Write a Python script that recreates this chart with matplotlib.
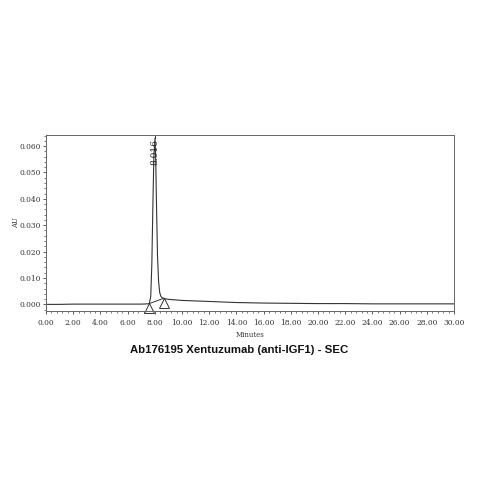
import matplotlib
matplotlib.use("Agg")
import matplotlib.pyplot as plt
import matplotlib.transforms as mtransforms
from matplotlib.ticker import FuncFormatter, AutoMinorLocator

# ---- data ----
time_min = [0.0, 1.0, 2.0, 3.0, 4.0, 5.0, 6.0, 7.0, 7.5, 7.6, 7.7, 7.78, 7.86, 7.93,
            8.016, 8.07, 8.13, 8.2, 8.28, 8.36, 8.45, 8.55, 8.65, 8.8, 9.0, 9.5,
            10.0, 11.0, 12.0, 13.0, 14.0, 16.0, 18.0, 20.0, 22.0, 24.0, 26.0, 28.0, 30.0]
absorbance = [0.0000, 0.0000, 0.0001, 0.0001, 0.0001, 0.0001, 0.0001, 0.0001, 0.0002,
              0.0004, 0.0030, 0.0150, 0.0380, 0.0560,
              0.0630, 0.0540, 0.0360, 0.0180, 0.0085, 0.0045, 0.0030, 0.0025, 0.0023,
              0.0021, 0.0019, 0.0017,
              0.0015, 0.0013, 0.0011, 0.0009, 0.0007, 0.0005, 0.0004, 0.0003, 0.0003,
              0.0002, 0.0002, 0.0002, 0.0002]

peak_rt = 8.016
peak_label = "8.016"
peak_apex = 0.0630
baseline_start = (7.60, 0.0003)
baseline_end = (8.65, 0.0023)

x_ticks = [0, 2, 4, 6, 8, 10, 12, 14, 16, 18, 20, 22, 24, 26, 28, 30]
y_ticks = [0.000, 0.010, 0.020, 0.030, 0.040, 0.050, 0.060]

title = "Ab176195 Xentuzumab (anti-IGF1) - SEC"
x_label = "Minutes"
y_label = "AU"

# ---- figure ----
fig = plt.figure(figsize=(4.79, 4.79), dpi=100)
ax = fig.add_axes([0.096, 0.351, 0.852, 0.367])

line_col = "#333333"
ax.plot(time_min, absorbance, color=line_col, lw=0.8)

# integration baseline
ax.plot([baseline_start[0], baseline_end[0]], [baseline_start[1], baseline_end[1]],
        color=line_col, lw=0.7)

# leader line above apex
ax.plot([peak_rt, peak_rt], [peak_apex, 0.0637], color=line_col, lw=0.7)

# open triangle markers (peak start / end), drawn just below the points
off = mtransforms.offset_copy(ax.transData, fig=fig, x=0, y=-3.2, units="points")
for (px, py) in (baseline_start, baseline_end):
    ax.plot([px], [py], marker="^", ms=6.5, mfc="white", mec=line_col, mew=0.7,
            transform=off, clip_on=False)

# peak label
ax.text(peak_rt, 0.0528, peak_label, rotation=90, ha="center", va="bottom",
        family="DejaVu Serif", fontsize=6.5, color="#222222")

ax.set_xlim(0, 30)
ax.set_ylim(-0.00246, 0.06416)
ax.set_xticks(x_ticks)
ax.set_yticks(y_ticks)
ax.xaxis.set_minor_locator(AutoMinorLocator(5))
ax.yaxis.set_minor_locator(AutoMinorLocator(5))
ax.xaxis.set_major_formatter(FuncFormatter(lambda v, p: f"{v:.2f}"))
ax.yaxis.set_major_formatter(FuncFormatter(lambda v, p: f"{v:.3f}"))

ax.tick_params(which="major", direction="out", length=2.5, width=0.6, color="#444444",
               labelsize=5.4)
ax.tick_params(axis="y", which="major", pad=1.2)
ax.tick_params(axis="x", which="major", pad=3.5)
ax.tick_params(which="minor", direction="out", length=1.5, width=0.5, color="#444444")
for lab in ax.get_xticklabels() + ax.get_yticklabels():
    lab.set_family("DejaVu Serif")
    lab.set_color("#333333")

for s in ax.spines.values():
    s.set_color("#666666")
    s.set_linewidth(0.7)

ax.set_xlabel(x_label, family="DejaVu Serif", fontsize=5, color="#333333")
ax.set_ylabel(y_label, family="DejaVu Serif", fontsize=5, color="#333333")
ax.xaxis.set_label_coords(0.5, -0.115)
ax.yaxis.set_label_coords(-0.064, 0.5)

fig.text(0.5, 0.269, title, ha="center", va="center", family="Liberation Sans",
         fontweight="bold", fontsize=8.2, color="#111111")

fig.savefig("out.png", dpi=100, facecolor="white")
